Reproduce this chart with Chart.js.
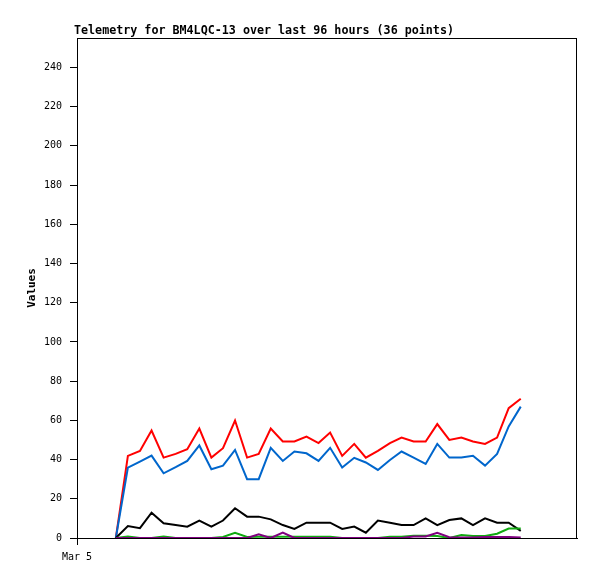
<!DOCTYPE html>
<html>
<head>
<meta charset="utf-8">
<script src="https://cdn.jsdelivr.net/npm/chart.js@4/dist/chart.umd.min.js"></script>
<style>
  html, body { margin: 0; padding: 0; background: #fff; }
  #wrap { width: 597px; height: 579px; }
</style>
</head>
<body>
<div id="wrap"><canvas id="telemetryChart" width="597" height="579"></canvas></div>
<script>
const TITLE = "Telemetry for BM4LQC-13 over last 96 hours (36 points)";

// hours since Mar 5 00:00
const hours = [8.7, 11.4, 14.1, 16.7, 19.4, 22.1, 24.7, 27.4, 30.1, 32.7, 35.4, 38.1,
  40.7, 43.4, 46.1, 48.7, 51.4, 54.1, 56.7, 59.4, 62.1, 64.7, 67.4, 70.1,
  72.7, 75.4, 78.1, 80.7, 83.4, 86.1, 88.7, 91.4, 94.1, 96.7, 99.4];

const redValues = [0, 41.9, 44.4, 54.8, 41, 42.9, 45.3, 55.8, 41, 45.8, 59.9, 41,
  42.9, 55.8, 49.2, 49.2, 51.7, 48.4, 53.8, 41.9, 48, 41, 44.4, 48.4,
  51.2, 49.2, 49.2, 58.1, 50, 51.2, 49.2, 48, 51.2, 66.2, 71];
const blueValues = [0, 35.9, 39, 42, 33, 36.1, 39.3, 47.2, 35.1, 36.9, 44.9, 30,
  30, 46, 39.3, 44.1, 43.2, 39.3, 46, 35.9, 40.9, 38.5, 34.7, 39.8,
  44.1, 41, 37.8, 48, 41, 41, 41.9, 36.9, 42.9, 56.9, 67];
const blackValues = [0, 6.1, 5, 12.9, 7.5, 6.6, 5.8, 8.9, 5.8, 8.9, 15.2, 10.9,
  10.9, 9.5, 6.6, 4.6, 7.8, 7.8, 7.8, 4.6, 5.8, 2.7, 8.9, 7.8,
  6.6, 6.6, 10, 6.6, 9.2, 10, 6.6, 10, 7.8, 7.8, 3.6];
const greenValues = [0, 0.7, 0, 0, 0.7, 0, 0, 0, 0, 0.5, 2.7, 0.5,
  0.7, 0.7, 0.7, 0.7, 0.7, 0.7, 0.7, 0, 0, 0, 0, 0.7,
  0.7, 1.2, 1.2, 1, 0, 1.5, 1, 1, 2.2, 4.8, 4.8];
const purpleValues = [0, 0, 0, 0, 0, 0, 0, 0, 0, 0, 0, 0,
  1.9, 0, 2.7, 0, 0, 0, 0, 0, 0, 0, 0, 0,
  0, 0.8, 0.8, 2.7, 0.4, 0.3, 0.3, 0.5, 0.5, 0.5, 0.3];

const xTickValues = [0];
const xTickLabels = ["Mar 5"];

function toPoints(values) {
  return values.map((v, i) => ({ x: hours[i], y: v }));
}

function lineSet(values, color) {
  return {
    data: toPoints(values),
    borderColor: color,
    backgroundColor: color,
    borderWidth: 2,
    pointRadius: 0,
    tension: 0,
    fill: false,
  };
}

// title and chart frame, drawn like the original plot
const framePlugin = {
  id: "frame",
  afterDraw(chart) {
    const { ctx, chartArea } = chart;
    ctx.save();
    ctx.strokeStyle = "#000";
    ctx.lineWidth = 1;
    ctx.strokeRect(chartArea.left + 0.5, chartArea.top + 0.5,
      chartArea.right - chartArea.left - 1, chartArea.bottom - chartArea.top);
    ctx.fillStyle = "#000";
    ctx.font = "bold 11.7px 'DejaVu Sans Mono'";
    ctx.textBaseline = "alphabetic";
    ctx.fillText(TITLE, 74, 34);
    ctx.restore();
  },
};

Chart.defaults.font.family = "'DejaVu Sans Mono', monospace";
Chart.defaults.color = "#000";

const chart = new Chart(document.getElementById("telemetryChart"), {
  type: "line",
  data: {
    datasets: [
      lineSet(purpleValues, "#800080"),
      lineSet(greenValues, "#11aa11"),
      lineSet(blackValues, "#000000"),
      lineSet(blueValues, "#0066cc"),
      lineSet(redValues, "#ff0000"),
    ],
  },
  options: {
    responsive: false,
    animation: false,
    layout: { padding: { left: 0, right: 20, top: 38, bottom: 0 } },
    plugins: {
      legend: { display: false },
      title: { display: false },
      tooltip: { enabled: false },
    },
    scales: {
      x: {
        type: "linear",
        min: 0,
        max: 112,
        afterBuildTicks: (s) => { s.ticks = xTickValues.map((v) => ({ value: v })); },
        afterFit: (s) => { s.height = 41; },
        ticks: {
          font: { size: 10 },
          padding: 6,
          maxRotation: 0,
          callback: (v) => xTickLabels[xTickValues.indexOf(v)] || "",
        },
        grid: { drawOnChartArea: false, drawTicks: true, tickLength: 7, color: "#000" },
        border: { display: true, color: "#000" },
      },
      y: {
        min: 0,
        max: 255,
        afterFit: (s) => { s.width = 77; },
        ticks: { stepSize: 20, includeBounds: false, font: { size: 10 }, padding: 8 },
        grid: { drawOnChartArea: false, drawTicks: true, tickLength: 7, color: "#000" },
        border: { display: true, color: "#000" },
        title: {
          display: true,
          text: "Values",
          font: { size: 11, weight: "bold" },
          padding: { top: 26, bottom: 0 },
        },
      },
    },
  },
  plugins: [framePlugin],
});
</script>
</body>
</html>
